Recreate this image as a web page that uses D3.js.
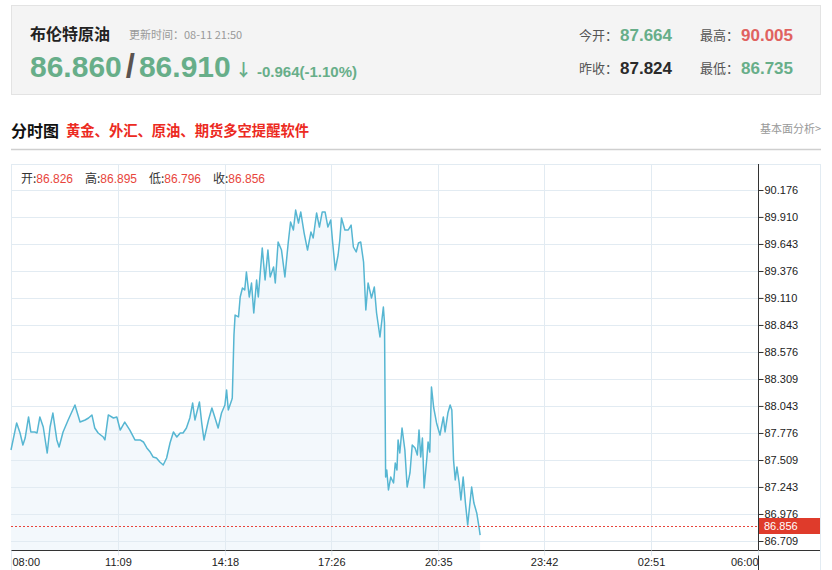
<!DOCTYPE html>
<html>
<head>
  <meta charset="utf8">
  <title>布伦特原油 分时图</title>
  <script src="https://d3js.org/d3.v7.min.js"></script>
  <style>
    body { margin: 0; background: #fff; }
    text { font-family: Arial, "Liberation Sans", "Noto Sans CJK SC", sans-serif; }
    .cjk { font-family: "Noto Sans CJK SC", sans-serif; }
  </style>
</head>
<body>
<script>

var minutes = [0,10,16,21,25,31,35,42,46,51,57,64,69,74,81,85,92,101,113,122,131,137,143,148,154,163,166,172,181,187,193,201,210,219,228,234,240,246,251,257,263,269,275,281,287,293,299,304,310,316,321,325,333,337,341,349,355,360,366,372,378,381,384,390,391,394,396,402,405,409,413,416,421,425,429,434,437,444,449,454,458,464,467,472,478,484,490,494,499,503,508,512,518,524,530,534,540,545,550,555,560,565,568,573,578,581,584,590,596,601,605,610,614,618,623,627,631,637,642,646,652,658,660,662,664,667,671,676,679,682,684,687,691,696,700,705,709,714,718,721,724,727,730,735,737,740,743,747,752,758,764,767,772,776,779,782,785,788,792,795,799,803,807,811,814,818,823,827,829];

var prices = [87.608,87.875,87.776,87.657,87.726,87.934,87.786,87.786,87.776,87.934,87.835,87.578,87.835,87.973,87.707,87.638,87.786,87.904,88.052,87.884,87.904,87.924,87.954,87.825,87.776,87.736,87.707,87.954,87.924,87.934,87.805,87.884,87.805,87.707,87.707,87.687,87.628,87.588,87.539,87.529,87.489,87.460,87.529,87.677,87.786,87.736,87.776,87.776,87.825,87.924,88.072,87.904,88.082,87.875,87.707,87.904,88.023,87.934,87.825,87.973,88.052,88.201,88.003,88.102,88.122,88.744,88.941,88.922,89.119,89.208,89.188,89.366,89.119,89.257,88.961,89.287,89.119,89.603,89.287,89.583,89.317,89.415,89.257,89.662,89.583,89.317,89.662,89.860,89.781,89.978,89.850,89.959,89.751,89.583,89.761,89.702,89.949,89.810,89.959,89.959,89.810,89.880,89.682,89.386,89.534,89.682,89.899,89.781,89.781,89.830,89.613,89.564,89.652,89.662,89.465,88.991,89.257,89.109,89.218,88.961,88.724,89.020,88.862,87.341,87.410,87.213,87.341,87.282,87.479,87.410,87.707,87.578,87.825,87.608,87.242,87.381,87.657,87.628,87.558,87.805,87.539,87.726,87.233,87.539,87.687,87.588,88.230,88.023,87.875,87.756,87.934,87.786,87.973,88.052,88.003,87.509,87.312,87.440,87.282,87.114,87.341,87.084,86.867,87.084,87.242,87.084,86.986,86.847,86.768];

var timeLabels = ["08:00","11:09","14:18","17:26","20:35","23:42","02:51","06:00"];
var priceTicks = ["86.709","86.976","87.243","87.509","87.776","88.043","88.309","88.576","88.843","89.110","89.376","89.643","89.910","90.176"];

var lastPrice = 86.856;
var barLabels = ["开:","高:","低:","收:"];
var barValues = ["86.826","86.895","86.796","86.856"];

var W = 832, H = 570;
var svg = d3.select("body").append("svg").attr("width", W).attr("height", H);

// ---------- quote box ----------
svg.append("rect").attr("x", 11.5).attr("y", 5.5).attr("width", 809).attr("height", 89)
   .attr("fill", "#f4f4f4").attr("stroke", "#e3e3e3");

svg.append("text").attr("class", "cjk").attr("x", 30).attr("y", 40)
   .attr("font-size", 16).attr("font-weight", "bold").attr("fill", "#222").text("布伦特原油");
svg.append("text").attr("class", "cjk").attr("x", 129).attr("y", 39)
   .attr("font-size", 11).attr("fill", "#999").text("更新时间：08-11 21:50");

var green = "#67ae89", red = "#e0625f";
var big = svg.append("text").attr("x", 30).attr("y", 77).attr("font-size", 30).attr("font-weight", "bold");
big.append("tspan").attr("fill", green).text("86.860");
big.append("tspan").attr("fill", "#5a5350").attr("dx", 4).attr("font-size", 33).text("/");
big.append("tspan").attr("fill", green).attr("dx", 4).text("86.910");
svg.append("text").attr("class", "cjk").attr("x", 235).attr("y", 76).attr("font-size", 17).attr("font-weight", "bold")
   .attr("fill", green).text("↓");
svg.append("text").attr("x", 257).attr("y", 77).attr("font-size", 15).attr("font-weight", "bold")
   .attr("fill", green).text("-0.964(-1.10%)");

var stats = [
  {x: 579, y: 40, k: "今开：", v: "87.664", c: green},
  {x: 700, y: 40, k: "最高：", v: "90.005", c: red},
  {x: 579, y: 73, k: "昨收：", v: "87.824", c: "#2a2a2a"},
  {x: 700, y: 73, k: "最低：", v: "86.735", c: green}
];
stats.forEach(function(s) {
  svg.append("text").attr("class", "cjk").attr("x", s.x).attr("y", s.y)
     .attr("font-size", 13).attr("fill", "#555").text(s.k);
  svg.append("text").attr("x", s.x + 41).attr("y", s.y + 1)
     .attr("font-size", 17).attr("font-weight", "bold").attr("fill", s.c).text(s.v);
});

// ---------- section header ----------
svg.append("text").attr("class", "cjk").attr("x", 11).attr("y", 137)
   .attr("font-size", 16).attr("font-weight", "bold").attr("fill", "#111").text("分时图");
svg.append("text").attr("class", "cjk").attr("x", 66).attr("y", 136)
   .attr("font-size", 14.3).attr("font-weight", "bold").attr("fill", "#ec2a22")
   .text("黄金、外汇、原油、期货多空提醒软件");
svg.append("text").attr("class", "cjk").attr("x", 821).attr("y", 133).attr("text-anchor", "end")
   .attr("font-size", 11).attr("fill", "#999").text("基本面分析>");
svg.append("line").attr("x1", 11).attr("x2", 821).attr("y1", 149.5).attr("y2", 149.5)
   .attr("stroke", "#cfcfcf").attr("stroke-width", 1.5);

// ---------- chart ----------
var pLeft = 11, pRight = 758, pTop = 164, pBottom = 550, pEdge = 820;

function toMin(s) {
  var p = s.split(":"), m = (+p[0] - 8) * 60 + (+p[1]);
  return m < 0 ? m + 1440 : m;
}
var tickMins = timeLabels.map(toMin);
tickMins[tickMins.length - 1] = 1320;

var x = d3.scaleLinear().domain([0, 1320]).range([pLeft, pRight]);
var y = d3.scaleLinear().domain([+priceTicks[0], +priceTicks[priceTicks.length - 1]]).range([541, 190]);

var grid = "#e2ebf2";
svg.append("rect").attr("x", pLeft + 0.5).attr("y", pTop + 0.5).attr("width", pEdge - pLeft).attr("height", H)
   .attr("fill", "none").attr("stroke", grid);

var data = minutes.map(function(m, i) { return [m, prices[i]]; });

var area = d3.area().x(function(d) { return x(d[0]); }).y0(pBottom).y1(function(d) { return y(d[1]); });
svg.append("path").datum(data).attr("d", area).attr("fill", "#f3f8fc");

svg.append("g").selectAll("line").data(priceTicks).enter().append("line")
   .attr("x1", pLeft).attr("x2", pRight)
   .attr("y1", function(d) { return Math.round(y(+d)) + 0.5; })
   .attr("y2", function(d) { return Math.round(y(+d)) + 0.5; })
   .attr("stroke", grid);

svg.append("g").selectAll("line").data(tickMins.slice(1, -1)).enter().append("line")
   .attr("x1", function(d) { return Math.round(x(d)) + 0.5; })
   .attr("x2", function(d) { return Math.round(x(d)) + 0.5; })
   .attr("y1", pTop).attr("y2", pBottom)
   .attr("stroke", grid);

svg.append("path").datum(data)
   .attr("d", d3.line().x(function(d) { return x(d[0]); }).y(function(d) { return y(d[1]); }))
   .attr("fill", "none").attr("stroke", "#56b6d2").attr("stroke-width", 1.5)
   .attr("stroke-linejoin", "round");

// last price dotted line
svg.append("line").attr("x1", pLeft).attr("x2", pRight)
   .attr("y1", Math.round(y(lastPrice)) + 0.5).attr("y2", Math.round(y(lastPrice)) + 0.5)
   .attr("stroke", "#e8453c").attr("stroke-dasharray", "2,2");

// axes lines
svg.append("line").attr("x1", pRight + 0.5).attr("x2", pRight + 0.5).attr("y1", pTop).attr("y2", H)
   .attr("stroke", "#333");
svg.append("line").attr("x1", pLeft).attr("x2", pEdge).attr("y1", pBottom + 0.5).attr("y2", pBottom + 0.5)
   .attr("stroke", "#333");

// y axis on the right
var yAxis = svg.append("g").attr("transform", "translate(" + (pRight + 0.5) + ",0)")
   .call(d3.axisRight(y).tickValues(priceTicks.map(Number)).tickSize(5).tickPadding(1)
         .tickFormat(function(d, i) { return priceTicks[i]; }));
yAxis.select(".domain").remove();
yAxis.selectAll("line").attr("stroke", "#333");
yAxis.selectAll("text").attr("font-size", 11).attr("fill", "#222")
     .attr("font-family", "Arial, 'Liberation Sans', sans-serif");

// current price tag
var ly = y(lastPrice);
svg.append("rect").attr("x", pRight + 1).attr("y", Math.round(ly) - 8).attr("width", pEdge - pRight - 1).attr("height", 16)
   .attr("fill", "#df3b2b");
svg.append("text").attr("x", pRight + 6).attr("y", ly + 4).attr("font-size", 11).attr("fill", "#fff")
   .text(d3.format(".3f")(lastPrice));

// x axis
var xAxis = svg.append("g").attr("transform", "translate(0," + (pBottom + 0.5) + ")")
   .call(d3.axisBottom(x).tickValues(tickMins).tickSize(5).tickPadding(3)
         .tickFormat(function(d, i) { return timeLabels[i]; }));
xAxis.select(".domain").remove();
xAxis.selectAll("line").attr("stroke", grid);
xAxis.selectAll("text").attr("font-size", 11).attr("fill", "#222")
     .attr("font-family", "Arial, 'Liberation Sans', sans-serif");
xAxis.selectAll(".tick").filter(function(d, i) { return i === 0; }).select("text").attr("text-anchor", "start").attr("dx", 1);
xAxis.selectAll(".tick").filter(function(d, i) { return i === tickMins.length - 1; }).select("text").attr("text-anchor", "end");

// OHLC info row
var info = svg.append("g");
barLabels.forEach(function(lab, i) {
  var t = info.append("text").attr("x", 21 + i * 64).attr("y", 183).attr("font-size", 12);
  t.append("tspan").attr("class", "cjk").attr("fill", "#333").text(lab);
  t.append("tspan").attr("fill", "#e8453c").text(barValues[i]);
});

</script>
</body>
</html>
